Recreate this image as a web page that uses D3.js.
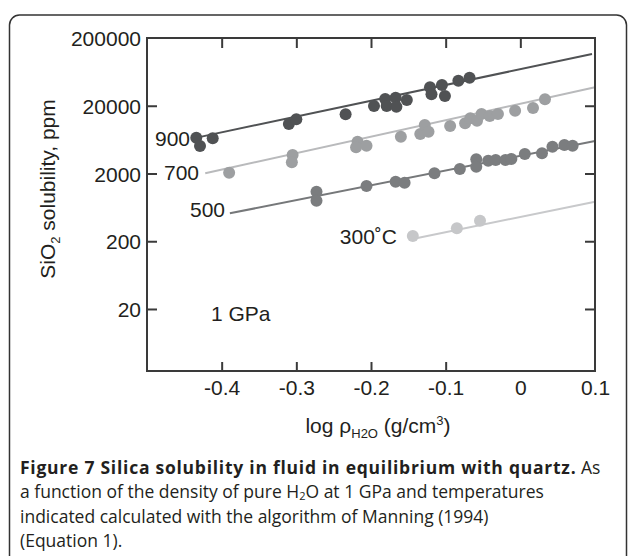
<!DOCTYPE html>
<html><head><meta charset="utf-8">
<script src="https://cdn.jsdelivr.net/npm/d3@7"></script>
<style>body{margin:0;background:#fff} svg{display:block}</style>
</head><body>
<svg id="c" width="629" height="556"></svg>
<script>
// ---- data (x = log density of H2O, y = SiO2 solubility ppm) ----
const x900 = [-0.434,-0.429,-0.412,-0.310,-0.300,-0.234,-0.196,-0.181,-0.179,-0.167,-0.166,-0.152,-0.121,-0.119,-0.105,-0.101,-0.083,-0.068];
const y900 = [6750,5090,6620,10760,12620,14960,19820,25160,19820,26300,19360,24320,37420,29510,40470,27860,46880,51880];
const x700 = [-0.390,-0.305,-0.306,-0.218,-0.220,-0.206,-0.160,-0.134,-0.128,-0.123,-0.094,-0.074,-0.067,-0.058,-0.052,-0.041,-0.030,-0.007,0.017,0.033];
const y700 = [2056,3750,2925,5890,4870,5140,6980,7660,10400,8280,10050,11020,13060,12030,15110,14120,15110,16900,18530,24900];
const x500 = [-0.273,-0.273,-0.206,-0.167,-0.155,-0.115,-0.081,-0.059,-0.059,-0.043,-0.033,-0.020,-0.012,0.006,0.029,0.043,0.059,0.070];
const y500 = [1077,794,1307,1513,1463,2014,2330,3240,2520,3090,3160,3160,3270,3880,3970,4970,5270,5140];
const x300 = [-0.144,-0.085,-0.054];
const y300 = [239,310,402];
// fitted lines (Manning 1994)
const fitX900 = [-0.438, 0.096], fitY900 = [6600, 116000];
const fitX700 = [-0.422, 0.100], fitY700 = [2014, 37400];
const fitX500 = [-0.389, 0.100], fitY500 = [517, 6040];
const fitX300 = [-0.146, 0.100], fitY300 = [214, 767];
const seriesNames = ["900", "700", "500", "300˚C"];
const xTicks = [-0.4, -0.3, -0.2, -0.1, 0, 0.1];
const yTicks = [20, 200, 2000, 20000, 200000];

const svg = d3.select("#c");
const L = 147, R = 595, T = 38, B = 371;
const x = d3.scaleLinear().domain([-0.5, 0.1]).range([L, R]);
const y = d3.scaleLog().domain([2.43, 200000]).range([B, T]);
const ink = "#231f20", frameC = "#3a3a3a";
const chartFont = "'Liberation Sans', Arial, sans-serif";
const capFont = "'Open Sans', sans-serif";

// outer rounded border
svg.append("rect").attr("x", 9.5).attr("y", 15).attr("width", 617).attr("height", 620)
  .attr("rx", 10).attr("fill", "none").attr("stroke", "#333").attr("stroke-width", 1.5);

// series
const series = [
  {xs: x300, ys: y300, fx: fitX300, fy: fitY300, pc: "#c6c7c9", lc: "#c8c9cb"},
  {xs: x500, ys: y500, fx: fitX500, fy: fitY500, pc: "#7b7d7f", lc: "#76787a"},
  {xs: x700, ys: y700, fx: fitX700, fy: fitY700, pc: "#9d9fa1", lc: "#b9babc"},
  {xs: x900, ys: y900, fx: fitX900, fy: fitY900, pc: "#505254", lc: "#505254"}
];
const line = d3.line().x(d => x(d[0])).y(d => y(d[1]));
series.forEach(s => {
  svg.append("path").datum(s.fx.map((v, i) => [v, s.fy[i]])).attr("d", line)
    .attr("fill", "none").attr("stroke", s.lc).attr("stroke-width", 2);
});
series.forEach(s => {
  svg.append("g").selectAll("circle").data(s.xs.map((v, i) => [v, s.ys[i]])).join("circle")
    .attr("cx", d => x(d[0])).attr("cy", d => y(d[1])).attr("r", 6).attr("fill", s.pc);
});

// axes
const xfmt = d => d === 0 ? "0" : (d < 0 ? "-" : "") + Math.abs(d).toFixed(1);
const gx = svg.append("g").attr("transform", `translate(0,${B})`)
  .call(d3.axisBottom(x).tickValues(xTicks).tickFormat(xfmt).tickSizeInner(-9).tickSizeOuter(0).tickPadding(9));
gx.selectAll(".tick").filter(d => d >= 0).select("line").remove();
const gt = svg.append("g").attr("transform", `translate(0,${T})`)
  .call(d3.axisTop(x).tickValues(xTicks.filter(d => d < 0.05)).tickFormat("").tickSizeInner(-10).tickSizeOuter(0));
const gy = svg.append("g").attr("transform", `translate(${L},0)`)
  .call(d3.axisLeft(y).tickValues(yTicks).tickFormat(d3.format("d")).tickSizeInner(-10).tickSizeOuter(0).tickPadding(6));
gy.selectAll(".tick").filter(d => d === 200000).select("line").remove();
const gr = svg.append("g").attr("transform", `translate(${R},0)`)
  .call(d3.axisRight(y).tickValues(yTicks.slice(0, 4)).tickFormat("").tickSizeInner(-10).tickSizeOuter(0));
[gx, gt, gy, gr].forEach(g => {
  g.select(".domain").remove();
  g.selectAll(".tick line").attr("stroke", frameC).attr("stroke-width", 2);
  g.selectAll(".tick text").attr("fill", ink).style("font-family", chartFont).style("font-size", "21px");
});
gy.selectAll(".tick text").attr("dy", "0.36em");
svg.append("rect").attr("x", L).attr("y", T).attr("width", R - L).attr("height", B - T)
  .attr("fill", "none").attr("stroke", frameC).attr("stroke-width", 2);

// series labels
const lab = (txt, px, py, anchor) => svg.append("text").attr("x", px).attr("y", py)
  .attr("text-anchor", anchor).attr("fill", ink).style("font-family", chartFont).style("font-size", "21px").text(txt);
lab(seriesNames[0], 190, 146, "end");
lab(seriesNames[1], 199, 180, "end");
lab(seriesNames[2], 225, 217, "end");
lab(seriesNames[3], 397, 244, "end");
lab("1 GPa", 211, 321, "start");

// y title
const yt = svg.append("text").attr("transform", "translate(55,189) rotate(-90)")
  .attr("text-anchor", "middle").attr("fill", ink).style("font-family", chartFont).style("font-size", "21px");
yt.append("tspan").text("SiO");
yt.append("tspan").attr("dy", 5).style("font-size", "13px").text("2");
yt.append("tspan").attr("dy", -5).text(" solubility, ppm");

// x title
const xt = svg.append("text").attr("x", 378).attr("y", 433)
  .attr("text-anchor", "middle").attr("fill", ink).style("font-family", chartFont).style("font-size", "21px");
xt.append("tspan").text("log ρ");
xt.append("tspan").attr("dy", 5).style("font-size", "13px").text("H2O");
xt.append("tspan").attr("dy", -5).text(" (g/cm");
xt.append("tspan").attr("dy", -8).style("font-size", "13px").text("3");
xt.append("tspan").attr("dy", 8).text(")");

// caption
const cap = (py) => svg.append("text").attr("x", 20).attr("y", py).attr("fill", ink)
  .style("font-family", capFont).style("font-size", "17.5px");
const c1 = cap(474);
c1.append("tspan").style("font-weight", "bold").style("letter-spacing", "0.75px")
  .text("Figure 7 Silica solubility in fluid in equilibrium with quartz.");
c1.append("tspan").text(" As");
const c2 = cap(498);
c2.append("tspan").text("a function of the density of pure H");
c2.append("tspan").attr("dy", 2).style("font-size", "11px").text("2");
c2.append("tspan").attr("dy", -2).text("O at 1 GPa and temperatures");
cap(522.5).text("indicated calculated with the algorithm of Manning (1994)");
cap(547).text("(Equation 1).");
</script>
</body></html>
